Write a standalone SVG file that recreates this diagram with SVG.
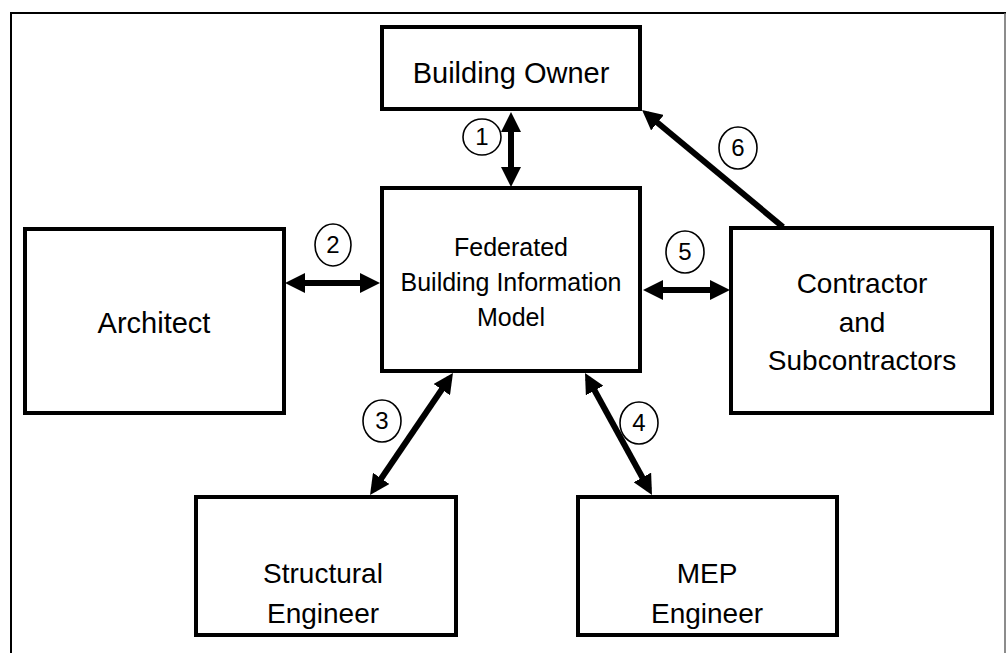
<svg xmlns="http://www.w3.org/2000/svg" width="1007" height="653" viewBox="0 0 1007 653">
  <style>
    .box { fill: #fff; stroke: #000; stroke-width: 4; }
    .lbl { font-family: "Liberation Sans", Arial, sans-serif; fill: #000; text-anchor: middle; }
    .num { font-family: "Liberation Sans", Arial, sans-serif; font-size: 24px; fill: #000; text-anchor: middle; }
    .badge { fill: #fff; stroke: #000; stroke-width: 1.6; }
    .conn { stroke: #000; stroke-width: 6; fill: none; }
    .frame { stroke: #000; stroke-width: 2; fill: none; }
  </style>
  <defs>
    <marker id="ah" viewBox="0 0 20 20" refX="14" refY="10" markerWidth="20" markerHeight="20" markerUnits="userSpaceOnUse" orient="auto-start-reverse">
      <path d="M0,0 L20,10 L0,20 z" fill="#000"/>
    </marker>
  </defs>
  <rect width="1007" height="653" fill="#fff"/>
  <g id="frame">
    <path class="frame" d="M11,653 V13 H1006"/>
    <line x1="1005" y1="13" x2="1005" y2="653" stroke="#666" stroke-width="1.5"/>
  </g>

  <g id="connectors">
    <line class="conn" x1="511" y1="118" x2="511" y2="181" marker-start="url(#ah)" marker-end="url(#ah)"/>
    <line class="conn" x1="291" y1="283" x2="374" y2="283" marker-start="url(#ah)" marker-end="url(#ah)"/>
    <line class="conn" x1="649" y1="290" x2="724" y2="290" marker-start="url(#ah)" marker-end="url(#ah)"/>
    <line class="conn" x1="449.6" y1="378" x2="373.4" y2="490" marker-start="url(#ah)" marker-end="url(#ah)"/>
    <line class="conn" x1="587.9" y1="378.3" x2="649.1" y2="489.7" marker-start="url(#ah)" marker-end="url(#ah)"/>
    <line class="conn" x1="783" y1="227" x2="646.7" y2="113.8" marker-end="url(#ah)"/>
    <g id="badges">
      <ellipse class="badge" cx="482" cy="137" rx="19" ry="18"/>
      <text class="num" x="482" y="145">1</text>
      <ellipse class="badge" cx="333" cy="245" rx="18" ry="21"/>
      <text class="num" x="333" y="253">2</text>
      <ellipse class="badge" cx="382" cy="421" rx="19" ry="21"/>
      <text class="num" x="382" y="429">3</text>
      <ellipse class="badge" cx="639" cy="423" rx="19" ry="21"/>
      <text class="num" x="639" y="431">4</text>
      <ellipse class="badge" cx="685" cy="252" rx="19" ry="21"/>
      <text class="num" x="685" y="260">5</text>
      <ellipse class="badge" cx="738" cy="148" rx="19" ry="21"/>
      <text class="num" x="738" y="156">6</text>
    </g>
  </g>

  <g id="owner">
    <rect class="box" x="382" y="27" width="258" height="82"/>
    <text class="lbl" x="511" y="83" font-size="29">Building Owner</text>
  </g>
  <g id="bim">
    <rect class="box" x="382" y="188" width="258" height="183"/>
    <text class="lbl" x="511" y="256" font-size="25">Federated</text>
    <text class="lbl" x="511" y="291" font-size="25">Building Information</text>
    <text class="lbl" x="511" y="326" font-size="25">Model</text>
  </g>
  <g id="architect">
    <rect class="box" x="25" y="229" width="259" height="184"/>
    <text class="lbl" x="154" y="333" font-size="29">Architect</text>
  </g>
  <g id="contractor">
    <rect class="box" x="731" y="228" width="261" height="185"/>
    <text class="lbl" x="862" y="293" font-size="28">Contractor</text>
    <text class="lbl" x="862" y="332" font-size="28">and</text>
    <text class="lbl" x="862" y="370" font-size="28">Subcontractors</text>
  </g>
  <g id="structural">
    <rect class="box" x="196" y="497" width="260" height="138"/>
    <text class="lbl" x="323" y="583" font-size="28">Structural</text>
    <text class="lbl" x="323" y="623" font-size="28">Engineer</text>
  </g>
  <g id="mep">
    <rect class="box" x="578" y="497" width="259" height="138"/>
    <text class="lbl" x="707" y="583" font-size="28">MEP</text>
    <text class="lbl" x="707" y="623" font-size="28">Engineer</text>
  </g>
</svg>
